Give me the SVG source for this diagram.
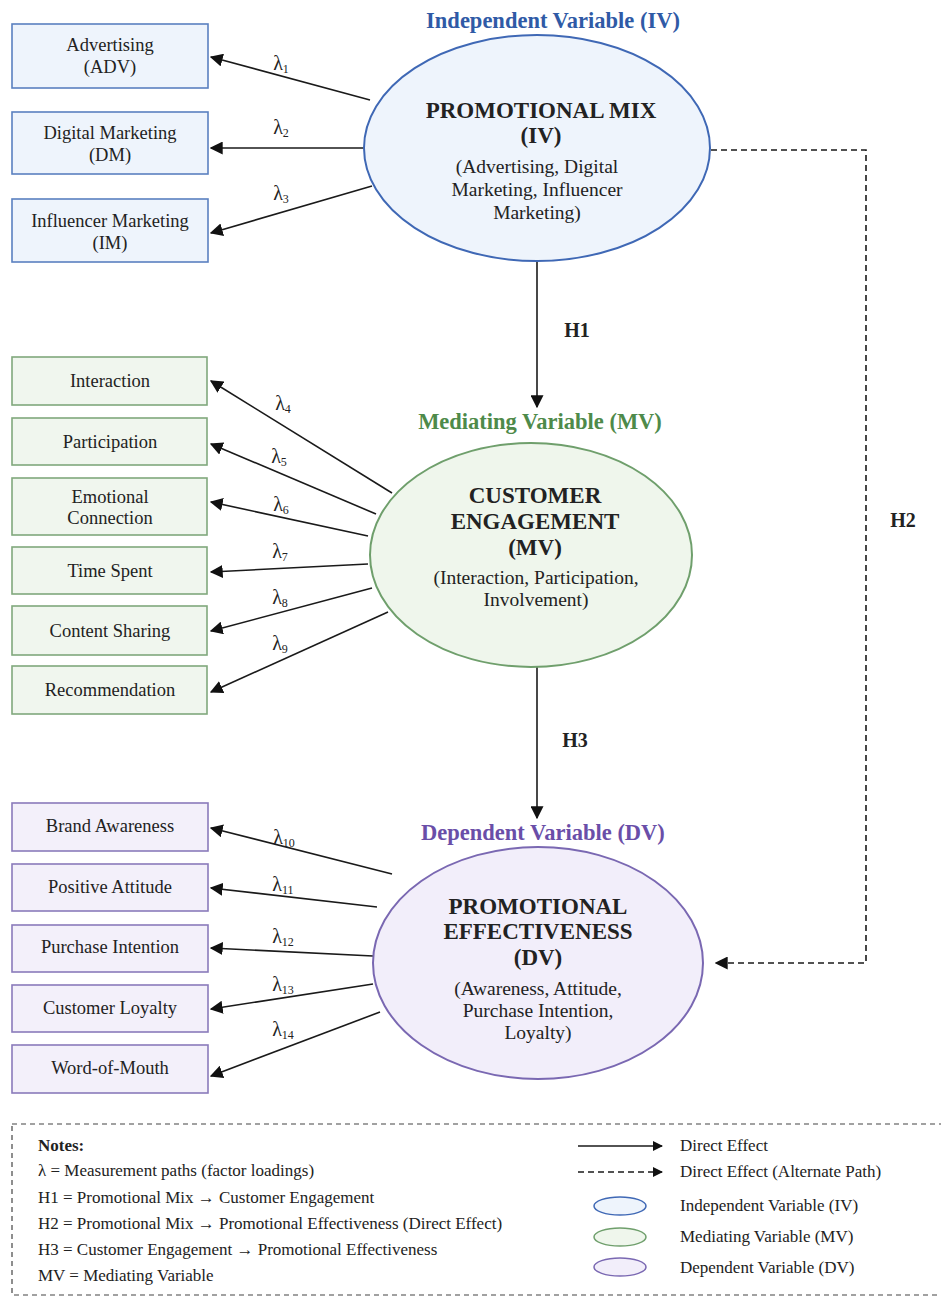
<svg xmlns="http://www.w3.org/2000/svg" width="941" height="1297" viewBox="0 0 941 1297">
<defs>
<style>
text{font-family:"Liberation Serif","Times New Roman",serif;fill:#222;text-anchor:middle}
.bx{font-size:18.5px}
.lam{font-size:20px}
.lam tspan{font-size:12px}
.ttl{font-size:23px;font-weight:bold}
.sub{font-size:19.5px}
.hd{font-size:22.5px;font-weight:bold}
.hl{font-size:20px;font-weight:bold}
.note{font-size:17px;text-anchor:start}
.iv{fill:#eef4fc;stroke:#3f68b5;stroke-width:2}
.mv{fill:#eff6ec;stroke:#6f9f6c;stroke-width:2}
.dv{fill:#f2eefa;stroke:#7a68b2;stroke-width:2}
.ivb{fill:#eef4fc;stroke:#5a80c0;stroke-width:1.6}
.mvb{fill:#f0f6ee;stroke:#80a87c;stroke-width:1.6}
.dvb{fill:#f3f0fa;stroke:#8a7bbb;stroke-width:1.6}
.ln{stroke:#1a1a1a;stroke-width:1.6;fill:none}
.dash{stroke:#1a1a1a;stroke-width:1.6;fill:none;stroke-dasharray:6,4}
</style>
<marker id="ah" viewBox="0 0 10 10" refX="9" refY="5" markerWidth="10" markerHeight="10" markerUnits="userSpaceOnUse" orient="auto">
<path d="M0,0 L10,5 L0,10 z" fill="#111"/>
</marker>
<marker id="ahb" viewBox="0 0 10 10" refX="9" refY="5" markerWidth="13" markerHeight="13" markerUnits="userSpaceOnUse" orient="auto">
<path d="M0,0 L10,5 L0,10 z" fill="#111"/>
</marker>
</defs>
<rect width="941" height="1297" fill="#ffffff"/>

<g id="connectors">
<line class="ln" x1="370" y1="100" x2="211" y2="57" marker-end="url(#ahb)"/>
<line class="ln" x1="364" y1="148" x2="211" y2="148" marker-end="url(#ahb)"/>
<line class="ln" x1="372" y1="186" x2="211" y2="233" marker-end="url(#ahb)"/>
<line class="ln" x1="537" y1="261" x2="537" y2="407" marker-end="url(#ahb)"/>
<polyline class="dash" points="711,150 866,150 866,963 716,963" marker-end="url(#ahb)"/>
<line class="ln" x1="392" y1="493" x2="211" y2="381" marker-end="url(#ahb)"/>
<line class="ln" x1="376" y1="514" x2="211" y2="444" marker-end="url(#ahb)"/>
<line class="ln" x1="368" y1="536" x2="211" y2="502" marker-end="url(#ahb)"/>
<line class="ln" x1="368" y1="564" x2="211" y2="572" marker-end="url(#ahb)"/>
<line class="ln" x1="372" y1="588" x2="211" y2="631" marker-end="url(#ahb)"/>
<line class="ln" x1="388" y1="612" x2="211" y2="692" marker-end="url(#ahb)"/>
<line class="ln" x1="537" y1="667" x2="537" y2="818" marker-end="url(#ahb)"/>
<line class="ln" x1="392" y1="874" x2="211" y2="828" marker-end="url(#ahb)"/>
<line class="ln" x1="377" y1="907" x2="211" y2="888" marker-end="url(#ahb)"/>
<line class="ln" x1="373" y1="956" x2="211" y2="948" marker-end="url(#ahb)"/>
<line class="ln" x1="373" y1="984" x2="211" y2="1009" marker-end="url(#ahb)"/>
<line class="ln" x1="380" y1="1012" x2="211" y2="1076" marker-end="url(#ahb)"/>
<text class="lam" x="281" y="70">λ<tspan dy="3">1</tspan></text>
<text class="lam" x="281" y="134">λ<tspan dy="3">2</tspan></text>
<text class="lam" x="281" y="200">λ<tspan dy="3">3</tspan></text>
<text class="lam" x="283" y="410">λ<tspan dy="3">4</tspan></text>
<text class="lam" x="279" y="463">λ<tspan dy="3">5</tspan></text>
<text class="lam" x="281" y="511">λ<tspan dy="3">6</tspan></text>
<text class="lam" x="280" y="558">λ<tspan dy="3">7</tspan></text>
<text class="lam" x="280" y="604">λ<tspan dy="3">8</tspan></text>
<text class="lam" x="280" y="650">λ<tspan dy="3">9</tspan></text>
<text class="lam" x="284" y="844">λ<tspan dy="3">10</tspan></text>
<text class="lam" x="283" y="891">λ<tspan dy="3">11</tspan></text>
<text class="lam" x="283" y="943">λ<tspan dy="3">12</tspan></text>
<text class="lam" x="283" y="991">λ<tspan dy="3">13</tspan></text>
<text class="lam" x="283" y="1036">λ<tspan dy="3">14</tspan></text>
<text class="hl" x="577" y="337">H1</text>
<text class="hl" x="575" y="747">H3</text>
<text class="hl" x="903" y="527">H2</text>
</g>

<g id="iv">
<text class="hd" x="553" y="28" style="fill:#2f5aa6">Independent Variable (IV)</text>
<ellipse class="iv" cx="537" cy="148" rx="173" ry="113"/>
<text class="ttl" x="541" y="118">PROMOTIONAL MIX</text>
<text class="ttl" x="541" y="143">(IV)</text>
<text class="sub" x="537" y="173">(Advertising, Digital</text>
<text class="sub" x="537" y="196">Marketing, Influencer</text>
<text class="sub" x="537" y="219">Marketing)</text>
</g>
<g id="adv"><rect class="ivb" x="12" y="24" width="196" height="64"/><text class="bx" x="110" y="51">Advertising</text><text class="bx" x="110" y="73">(ADV)</text></g>
<g id="dm"><rect class="ivb" x="12" y="112" width="196" height="62"/><text class="bx" x="110" y="139">Digital Marketing</text><text class="bx" x="110" y="161">(DM)</text></g>
<g id="im"><rect class="ivb" x="12" y="199" width="196" height="63"/><text class="bx" x="110" y="227">Influencer Marketing</text><text class="bx" x="110" y="249">(IM)</text></g>

<g id="mv">
<text class="hd" x="540" y="429" style="fill:#4e8a4a">Mediating Variable (MV)</text>
<ellipse class="mv" cx="531" cy="555" rx="161" ry="112"/>
<text class="ttl" x="535" y="503">CUSTOMER</text>
<text class="ttl" x="535" y="529">ENGAGEMENT</text>
<text class="ttl" x="535" y="555">(MV)</text>
<text class="sub" x="536" y="584">(Interaction, Participation,</text>
<text class="sub" x="536" y="606">Involvement)</text>
</g>
<g id="interaction"><rect class="mvb" x="12" y="357" width="195" height="48"/><text class="bx" x="110" y="387">Interaction</text></g>
<g id="participation"><rect class="mvb" x="12" y="418" width="195" height="47"/><text class="bx" x="110" y="448">Participation</text></g>
<g id="emotional"><rect class="mvb" x="12" y="478" width="195" height="57"/><text class="bx" x="110" y="503">Emotional</text><text class="bx" x="110" y="524">Connection</text></g>
<g id="time"><rect class="mvb" x="12" y="547" width="195" height="47"/><text class="bx" x="110" y="577">Time Spent</text></g>
<g id="content"><rect class="mvb" x="12" y="606" width="195" height="49"/><text class="bx" x="110" y="637">Content Sharing</text></g>
<g id="recommendation"><rect class="mvb" x="12" y="666" width="195" height="48"/><text class="bx" x="110" y="696">Recommendation</text></g>

<g id="dv">
<text class="hd" x="543" y="840" style="fill:#6a4ea8">Dependent Variable (DV)</text>
<ellipse class="dv" cx="538" cy="963" rx="165" ry="116"/>
<text class="ttl" x="538" y="914">PROMOTIONAL</text>
<text class="ttl" x="538" y="939">EFFECTIVENESS</text>
<text class="ttl" x="538" y="965">(DV)</text>
<text class="sub" x="538" y="995">(Awareness, Attitude,</text>
<text class="sub" x="538" y="1017">Purchase Intention,</text>
<text class="sub" x="538" y="1039">Loyalty)</text>
</g>
<g id="brand"><rect class="dvb" x="12" y="803" width="196" height="48"/><text class="bx" x="110" y="832">Brand Awareness</text></g>
<g id="attitude"><rect class="dvb" x="12" y="864" width="196" height="47"/><text class="bx" x="110" y="893">Positive Attitude</text></g>
<g id="purchase"><rect class="dvb" x="12" y="925" width="196" height="47"/><text class="bx" x="110" y="953">Purchase Intention</text></g>
<g id="loyalty"><rect class="dvb" x="12" y="985" width="196" height="47"/><text class="bx" x="110" y="1014">Customer Loyalty</text></g>
<g id="wom"><rect class="dvb" x="12" y="1045" width="196" height="48"/><text class="bx" x="110" y="1074">Word-of-Mouth</text></g>

<g id="legend">
<rect x="12" y="1124" width="935" height="171" fill="none" stroke="#444" stroke-width="1.2" stroke-dasharray="5,4"/>
<text class="note" x="38" y="1151" style="font-weight:bold">Notes:</text>
<text class="note" x="38" y="1176">λ = Measurement paths (factor loadings)</text>
<text class="note" x="38" y="1203">H1 = Promotional Mix → Customer Engagement</text>
<text class="note" x="38" y="1229">H2 = Promotional Mix → Promotional Effectiveness (Direct Effect)</text>
<text class="note" x="38" y="1255">H3 = Customer Engagement → Promotional Effectiveness</text>
<text class="note" x="38" y="1281">MV = Mediating Variable</text>
<line class="ln" x1="578" y1="1146" x2="662" y2="1146" marker-end="url(#ah)"/>
<line class="dash" x1="578" y1="1172" x2="662" y2="1172" marker-end="url(#ah)"/>
<ellipse class="iv" cx="620" cy="1206" rx="26" ry="9" style="stroke-width:1.5"/>
<ellipse class="mv" cx="620" cy="1237" rx="26" ry="9" style="stroke-width:1.5"/>
<ellipse class="dv" cx="620" cy="1267" rx="26" ry="9" style="stroke-width:1.5"/>
<text class="note" x="680" y="1151">Direct Effect</text>
<text class="note" x="680" y="1177">Direct Effect (Alternate Path)</text>
<text class="note" x="680" y="1211">Independent Variable (IV)</text>
<text class="note" x="680" y="1242">Mediating Variable (MV)</text>
<text class="note" x="680" y="1273">Dependent Variable (DV)</text>
</g>
</svg>
